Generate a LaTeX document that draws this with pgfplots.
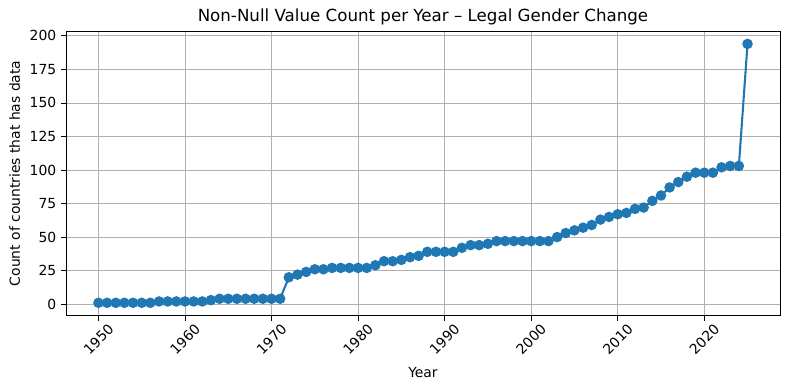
\documentclass[border=0pt]{standalone}
\usepackage{fontspec}
\setmainfont{DejaVu Sans}
\usepackage{pgfplots}
\pgfplotsset{compat=1.18}
\definecolor{mplblue}{HTML}{1F77B4}
\definecolor{gridgray}{HTML}{B0B0B0}
\begin{document}
\begin{tikzpicture}
\begin{axis}[
  scale only axis, width=514pt, height=205pt,
  xmin=1946.25, xmax=2028.75, ymin=-8.65, ymax=203.65,
  xtick={1950,1960,...,2020}, ytick={0,25,...,200},
  grid=major, major grid style={gridgray, line width=0.58pt},
  axis line style={line width=0.58pt},
  tick style={black, line width=0.58pt}, tick align=outside, major tick length=3.5pt,
  xtick pos=lower, ytick pos=left,
  /pgf/number format/assume math mode=true,
  /pgf/number format/1000 sep={},
  xticklabel style={anchor=center, yshift=-13.5pt, rotate=45},
  title={Non-Null Value Count per Year – Legal Gender Change},
  title style={font=\fontsize{12}{14}\selectfont, yshift=-5pt},
  xlabel={Year}, ylabel={Count of countries that has data},
  xlabel style={yshift=0pt},
]
\addplot[mplblue, line width=1.5pt, mark=*, mark size=3pt, mark options={fill=mplblue, draw=mplblue}] coordinates {
(1950,1)(1951,1)(1952,1)(1953,1)(1954,1)(1955,1)(1956,1)
(1957,2)(1958,2)(1959,2)(1960,2)(1961,2)(1962,2)(1963,3)
(1964,4)(1965,4)(1966,4)(1967,4)(1968,4)(1969,4)(1970,4)(1971,4)
(1972,20)(1973,22)(1974,24)(1975,26)(1976,26)(1977,27)(1978,27)(1979,27)(1980,27)(1981,27)
(1982,29)(1983,32)(1984,32)(1985,33)(1986,35)(1987,36)(1988,39)(1989,39)(1990,39)(1991,39)
(1992,42)(1993,44)(1994,44)(1995,45)(1996,47)(1997,47)(1998,47)(1999,47)(2000,47)(2001,47)(2002,47)
(2003,50)(2004,53)(2005,55)(2006,57)(2007,59)(2008,63)(2009,65)(2010,67)(2011,68)(2012,71)(2013,72)
(2014,77)(2015,81)(2016,87)(2017,91)(2018,95)(2019,98)(2020,98)(2021,98)(2022,102)(2023,103)(2024,103)
(2025,194)
};
\end{axis}
\pgfresetboundingbox
\path (current axis.south west) ++(-47.5pt,-53.3pt) rectangle (current axis.north east) ++(6.5pt,22.3pt);
\end{tikzpicture}
\end{document}
